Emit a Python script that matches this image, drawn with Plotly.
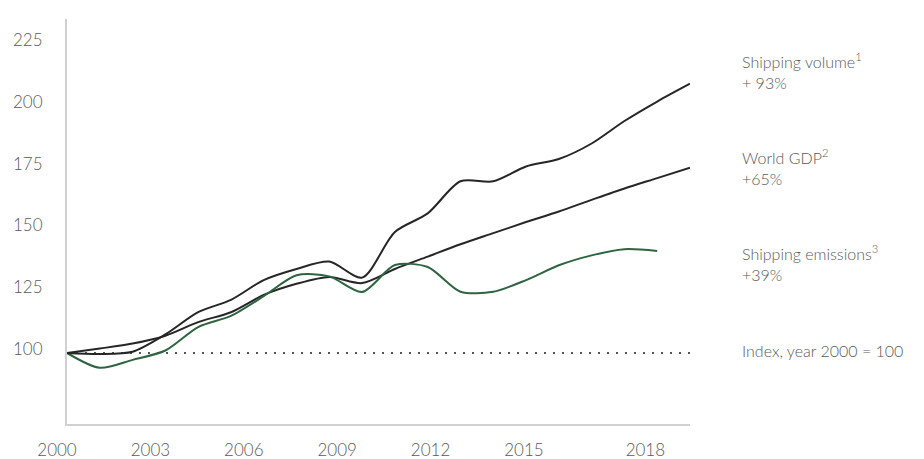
import plotly.graph_objects as go

# ---- data ----
years = list(range(2000, 2020))
shipping_volume = [100, 99.6, 100.5, 107.5, 116.5, 121.5, 129.5, 134, 137, 130.5,
                   149, 156.5, 169.5, 169.5, 175.5, 178.5, 184.8, 193.9, 201.8, 209]
world_gdp = [100, 101.8, 103.8, 107, 112.5, 116.5, 123.5, 128, 130.8, 128.3,
             134, 139, 144, 148.5, 153, 157.3, 162, 166.6, 170.8, 175]
emission_years = list(range(2000, 2019))
shipping_emissions = [100, 94, 97.2, 101, 110.5, 115, 123, 131.5, 131, 124.7,
                      135.6, 134.8, 124.8, 124.8, 129.5, 135.5, 139.5, 142, 141.3]
index_base = [100, 100]
index_span = [2000, 2019]

y_tick_values = [100, 125, 150, 175, 200, 225]
x_tick_labels = ["2000", "2003", "2006", "2009", "2012", "2015", "2018"]

series_labels = [
    ("Shipping volume<sup>1</sup><br>+ 93%", 214),
    ("World GDP<sup>2</sup><br>+65%", 175.1),
    ("Shipping emissions<sup>3</sup><br>+39%", 136.6),
    ("Index, year 2000 = 100", 101.2),
]

# ---- styling ----
FONT = "Lato"
TEXT = "#5a5a5a"
DARK = "#262626"
GREEN = "#2e6440"
AXIS = "#d0d0d0"

# page body has an 8px margin, so the figure is drawn 8px smaller
W, H = 916, 451
ML, MR, MT, MB = 22, 224, 11, 35
plot_w = W - ML - MR
x_dom = [(59 - ML) / plot_w, (682 - ML) / plot_w]

fig = go.Figure()
fig.add_trace(go.Scatter(x=index_span, y=index_base, mode="lines",
                         line=dict(color="#555555", width=2, dash="2px,7px"),
                         hoverinfo="skip"))
fig.add_trace(go.Scatter(x=years, y=world_gdp, mode="lines",
                         line=dict(color=DARK, width=2, shape="spline", smoothing=0.8)))
fig.add_trace(go.Scatter(x=emission_years, y=shipping_emissions, mode="lines",
                         line=dict(color=GREEN, width=2, shape="spline", smoothing=0.8)))
fig.add_trace(go.Scatter(x=years, y=shipping_volume, mode="lines",
                         line=dict(color=DARK, width=2, shape="spline", smoothing=0.8)))
# empty trace so the label axis (x2) is drawn
fig.add_trace(go.Scatter(x=[], y=[], xaxis="x2", yaxis="y", mode="lines",
                         hoverinfo="skip"))

for text, yv in series_labels:
    fig.add_annotation(text=text, xref="paper", x=(732 - ML) / plot_w, xanchor="left",
                       yref="y", y=yv, yanchor="middle", align="left", showarrow=False,
                       font=dict(family=FONT, size=16, color=TEXT, weight=300))

# label axis (wider domain so the 2000 label can sit left of the y axis)
px_per_year = 31.13
r0 = 2000 - (49 - ML) / px_per_year
r1 = r0 + plot_w / px_per_year
x_tick_positions = [2000, 2003, 2006, 2009, 2012, 2015, 2018.9]

fig.update_layout(
    width=W, height=H,
    margin=dict(l=ML, r=MR, t=MT, b=MB, autoexpand=False),
    paper_bgcolor="white", plot_bgcolor="rgba(0,0,0,0)",
    showlegend=False,
    font=dict(family=FONT, color=TEXT, size=17, weight=300),
    xaxis=dict(domain=x_dom, range=[2000, 2019], showgrid=False, zeroline=False,
               showline=True, linecolor=AXIS, linewidth=2, showticklabels=False,
               ticks="", automargin=False),
    xaxis2=dict(domain=[0, 1], range=[r0, r1], anchor="y", showgrid=False,
                zeroline=False, showline=False, ticks="",
                tickvals=x_tick_positions, ticktext=x_tick_labels,
                ticklabelstandoff=14, automargin=False,
                tickfont=dict(family=FONT, size=17, color=TEXT, weight=300)),
    yaxis=dict(domain=[0, 1], range=[71.25, 235.2], anchor="x", showgrid=False,
               zeroline=False, showline=True, linecolor=AXIS, linewidth=2,
               ticks="", tickvals=y_tick_values, ticklabelstandoff=19,
               ticklabelshift=-4, automargin=False,
               tickfont=dict(family=FONT, size=17, color=TEXT, weight=300)),
)

fig.write_html("out.html")
